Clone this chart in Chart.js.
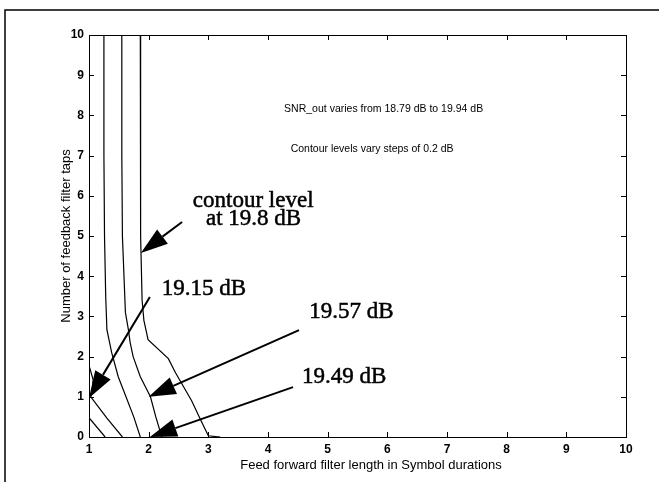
<!DOCTYPE html>
<html>
<head>
<meta charset="utf-8">
<script src="https://cdn.jsdelivr.net/npm/chart.js@4/dist/chart.umd.min.js"></script>
<style>
  html, body { margin: 0; padding: 0; background: #ffffff; }
  #wrap { width: 659px; height: 482px; position: relative; }
</style>
</head>
<body>
<div id="wrap"><canvas id="c" width="659" height="482"></canvas></div>
<script>
// ---- Axis ticks ----
const xTicks = [1, 2, 3, 4, 5, 6, 7, 8, 9, 10];
const yTicks = [0, 1, 2, 3, 4, 5, 6, 7, 8, 9, 10];

// ---- Contour lines (feed-forward length, feedback taps) ----
const contourA_x = [1.0, 1.27];
const contourA_y = [0.48, 0.0];

const contourB_x = [1.0, 1.07, 1.05, 1.03, 1.3, 1.56];
const contourB_y = [1.78, 1.42, 1.1, 1.0, 0.47, 0.0];

const contourC_x = [1.25, 1.25, 1.26, 1.28, 1.3, 1.38, 1.49, 1.62, 1.75, 1.86];
const contourC_y = [10, 7, 5, 3.5, 2.67, 2.1, 1.5, 1.0, 0.5, 0.0];

const contourD_x = [1.55, 1.55, 1.56, 1.61, 1.66, 1.69, 1.74, 1.86, 2.03, 2.12, 2.22];
const contourD_y = [10, 7, 5, 3.1, 2.67, 2.35, 2.0, 1.5, 1.0, 0.5, 0.0];

const contourE_x = [1.86, 1.86, 1.87, 1.89, 1.92, 1.99, 2.33, 2.45, 2.72, 2.88, 3.0, 3.2];
const contourE_y = [10, 7, 5, 3.4, 2.9, 2.42, 1.95, 1.6, 0.9, 0.4, 0.03, 0.0];

// ---- Annotations (text in data coordinates: left x, baseline y) ----
const noteTexts = ["SNR_out varies from 18.79 dB to 19.94 dB", "Contour levels vary steps of 0.2 dB"];
const noteX = [4.27, 4.38];
const noteY = [8.08, 7.09];

const labelTexts = ["contour level", "at 19.8 dB", "19.15 dB", "19.57 dB", "19.49 dB"];
const labelX = [2.74, 2.96, 2.22, 4.69, 4.57];
const labelY = [5.72, 5.27, 3.53, 2.96, 1.34];

// arrows: tail -> tip
const arrowTailX = [2.56, 2.02, 4.52, 4.42];
const arrowTailY = [5.35, 3.48, 2.66, 1.24];
const arrowTipX  = [1.87, 1.0, 2.0, 2.02];
const arrowTipY  = [4.58, 0.97, 1.0, 0.0];

const xTitle = "Feed forward filter length in Symbol durations";
const yTitle = "Number of feedback filter taps";

function pts(xs, ys) { return xs.map((x, i) => ({ x: x, y: ys[i] })); }
function lineDs(xs, ys) {
  return { data: pts(xs, ys), showLine: true, pointRadius: 0, borderColor: '#000', borderWidth: 1.2, fill: false, tension: 0 };
}

const SANS = '"Liberation Sans", Arial, Helvetica, sans-serif';

const decorPlugin = {
  id: 'decor',
  beforeDraw(chart) {
    const ctx = chart.ctx;
    ctx.save();
    ctx.fillStyle = '#fff';
    ctx.fillRect(0, 0, chart.width, chart.height);
    ctx.strokeStyle = '#000';
    ctx.lineWidth = 1.5;
    ctx.beginPath();
    ctx.moveTo(5, chart.height + 2);
    ctx.lineTo(5, 10);
    ctx.lineTo(chart.width + 2, 10);
    ctx.stroke();
    ctx.restore();
  },
  afterDraw(chart) {
    const ctx = chart.ctx;
    const xs = chart.scales.x, ys = chart.scales.y;
    const a = chart.chartArea;
    ctx.save();
    ctx.strokeStyle = '#000';
    ctx.lineWidth = 1;
    ctx.strokeRect(a.left + 0.5, a.top + 0.5, a.right - a.left, a.bottom - a.top);
    ctx.beginPath();
    xTicks.forEach(v => {
      const px = Math.round(xs.getPixelForValue(v)) + 0.5;
      ctx.moveTo(px, a.bottom); ctx.lineTo(px, a.bottom - 5);
      ctx.moveTo(px, a.top); ctx.lineTo(px, a.top + 5);
    });
    yTicks.forEach(v => {
      const py = Math.round(ys.getPixelForValue(v)) + 0.5;
      ctx.moveTo(a.left, py); ctx.lineTo(a.left + 5, py);
      ctx.moveTo(a.right, py); ctx.lineTo(a.right - 5, py);
    });
    ctx.stroke();

    // axis titles
    ctx.fillStyle = '#000';
    ctx.font = '13px ' + SANS;
    ctx.textAlign = 'center';
    ctx.textBaseline = 'alphabetic';
    ctx.fillText(xTitle, 371, 469);
    ctx.save();
    ctx.translate(70, (a.top + a.bottom) / 2);
    ctx.rotate(-Math.PI / 2);
    ctx.fillText(yTitle, 0, 0);
    ctx.restore();

    // notes
    ctx.textAlign = 'left';
    ctx.font = '10.5px ' + SANS;
    noteTexts.forEach((t, i) => {
      ctx.fillText(t, xs.getPixelForValue(noteX[i]), ys.getPixelForValue(noteY[i]));
    });

    // serif labels (slightly heavy, like the scanned original)
    ctx.font = '23px "Liberation Serif", "Times New Roman", serif';
    ctx.lineWidth = 0.5;
    labelTexts.forEach((t, i) => {
      const px = xs.getPixelForValue(labelX[i]), py = ys.getPixelForValue(labelY[i]);
      ctx.fillText(t, px, py);
      ctx.strokeText(t, px, py);
    });

    // arrows
    ctx.lineWidth = 2;
    arrowTailX.forEach((tx, i) => {
      const x0 = xs.getPixelForValue(tx), y0 = ys.getPixelForValue(arrowTailY[i]);
      const x1 = xs.getPixelForValue(arrowTipX[i]), y1 = ys.getPixelForValue(arrowTipY[i]);
      const ang = Math.atan2(y1 - y0, x1 - x0);
      const L = 27, W = 9;
      const bx = x1 - L * Math.cos(ang), by = y1 - L * Math.sin(ang);
      ctx.beginPath();
      ctx.moveTo(x0, y0); ctx.lineTo(bx, by);
      ctx.stroke();
      ctx.beginPath();
      ctx.moveTo(x1, y1);
      ctx.lineTo(bx + W * Math.sin(ang), by - W * Math.cos(ang));
      ctx.lineTo(bx - W * Math.sin(ang), by + W * Math.cos(ang));
      ctx.closePath();
      ctx.fill();
    });
    ctx.restore();
  }
};

new Chart(document.getElementById('c'), {
  type: 'scatter',
  data: {
    datasets: [
      lineDs(contourA_x, contourA_y),
      lineDs(contourB_x, contourB_y),
      lineDs(contourC_x, contourC_y),
      lineDs(contourD_x, contourD_y),
      lineDs(contourE_x, contourE_y)
    ]
  },
  options: {
    responsive: false,
    animation: false,
    devicePixelRatio: 1,
    layout: { padding: { left: 0, top: 35, right: 33, bottom: 0 } },
    plugins: { legend: { display: false }, tooltip: { enabled: false } },
    scales: {
      x: {
        type: 'linear', min: 1, max: 10,
        afterFit(s) { s.height = 45; },
        afterBuildTicks(s) { s.ticks = xTicks.map(v => ({ value: v })); },
        grid: { display: false, drawTicks: false, tickLength: 0 },
        border: { display: false },
        ticks: { color: '#000', padding: 5, font: { family: SANS, size: 12, weight: 'bold' } }
      },
      y: {
        type: 'linear', min: 0, max: 10,
        afterFit(s) { s.width = 89; },
        afterBuildTicks(s) { s.ticks = yTicks.map(v => ({ value: v })); },
        grid: { display: false, drawTicks: false, tickLength: 0 },
        border: { display: false },
        ticks: { color: '#000', padding: 5, font: { family: SANS, size: 12, weight: 'bold' } }
      }
    }
  },
  plugins: [decorPlugin]
});
</script>
</body>
</html>
